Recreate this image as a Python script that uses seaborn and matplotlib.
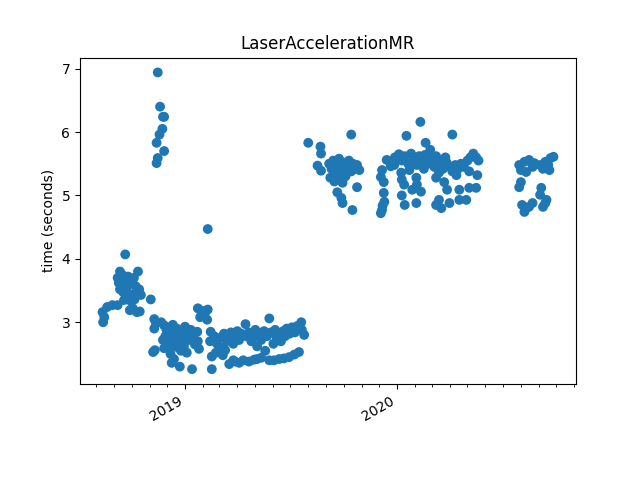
import numpy as np
import pandas as pd
import matplotlib
matplotlib.use("Agg")
import matplotlib.pyplot as plt
import matplotlib.dates as mdates
import seaborn as sns

# fechas y tiempos, por grupos

dates_2018 = ['2018-08-13', '2018-08-15', '2018-08-12', '2018-08-20', '2018-08-29', '2018-09-07',
              '2018-09-11', '2018-09-20', '2018-09-07', '2018-09-09', '2018-09-13', '2018-09-16',
              '2018-09-18', '2018-09-21', '2018-09-25', '2018-09-28', '2018-10-02', '2018-10-05',
              '2018-10-12', '2018-09-11', '2018-09-16', '2018-09-23', '2018-10-08', '2018-10-14',
              '2018-09-27', '2018-10-03', '2018-10-17', '2018-09-18', '2018-09-30', '2018-10-06',
              '2018-09-28', '2018-10-03', '2018-10-10', '2018-10-15', '2018-11-03', '2018-11-09',
              '2018-11-12', '2018-11-09', '2018-11-07', '2018-11-10', '2018-11-26']
times_2018 = [3.00, 3.08, 3.16, 3.24, 3.27, 3.27,
              3.80, 4.07, 3.70, 3.62, 3.68, 3.74,
              3.58, 3.66, 3.72, 3.69, 3.62, 3.70,
              3.80, 3.52, 3.48, 3.55, 3.57, 3.52,
              3.42, 3.44, 3.43, 3.35, 3.33, 3.36,
              3.19, 3.22, 3.16, 3.17, 3.36, 3.05,
              2.98, 2.90, 2.53, 2.56, 2.59]

dates_spike = ['2018-11-15', '2018-11-19', '2018-11-24', '2018-11-26', '2018-11-23',
               '2018-11-18', '2018-11-13', '2018-11-26', '2018-11-15', '2018-11-13']
times_spike = [6.94, 6.40, 6.24, 6.24, 6.05, 5.96, 5.83, 5.70, 5.59, 5.51]

dates_low = ['2018-11-21', '2018-11-26', '2018-11-30', '2018-12-04', '2018-12-07', '2018-12-11',
             '2018-12-14', '2018-12-18', '2018-12-22', '2018-12-25', '2018-12-29', '2019-01-01',
             '2019-01-04', '2019-01-08', '2019-01-11', '2019-01-15', '2019-01-18', '2019-01-22',
             '2018-12-04', '2018-12-09', '2018-12-14', '2018-12-20', '2018-12-25', '2018-12-30',
             '2019-01-04', '2018-12-07', '2018-12-13', '2018-12-09', '2018-12-23', '2019-01-13',
             '2019-02-16', '2018-11-28', '2018-11-24', '2019-01-23', '2019-01-25', '2019-02-09',
             '2019-01-23', '2019-01-30', '2019-02-04', '2019-01-27', '2019-02-03', '2019-02-08',
             '2019-02-09', '2019-02-14', '2019-02-20', '2019-02-13', '2019-02-25', '2019-03-01',
             '2019-02-16', '2019-02-23', '2019-03-04', '2019-03-09', '2019-03-14', '2019-03-18',
             '2019-03-21', '2019-03-07', '2019-03-18', '2019-03-25', '2019-03-28', '2019-04-01',
             '2019-04-04', '2019-04-08', '2019-04-04', '2019-04-11', '2019-04-15', '2019-04-16',
             '2019-04-21', '2019-04-25', '2019-04-28', '2019-05-02', '2019-04-21', '2019-04-30',
             '2019-05-05', '2019-05-08', '2019-05-12', '2019-05-12', '2019-05-17', '2019-05-19',
             '2019-05-22', '2019-05-26', '2019-05-29', '2019-06-02', '2019-06-03', '2019-06-05',
             '2019-06-08', '2019-06-12', '2019-06-15', '2019-06-19', '2019-06-20', '2019-06-22',
             '2019-06-25', '2019-06-29', '2019-06-30', '2019-07-04', '2019-07-08', '2019-07-09',
             '2019-07-13', '2019-07-16', '2019-07-20', '2019-07-21', '2019-07-25', '2019-03-11',
             '2019-03-25', '2019-03-28', '2019-05-05', '2019-05-26', '2019-06-12']
times_low = [3.00, 2.95, 2.88, 2.92, 2.84, 2.96,
             2.80, 2.90, 2.75, 2.86, 2.70, 2.93,
             2.80, 2.72, 2.88, 2.76, 2.65, 2.85,
             2.70, 2.62, 2.68, 2.60, 2.55, 2.62,
             2.52, 2.50, 2.42, 2.36, 2.30, 2.26,
             2.26, 2.78, 2.72, 2.70, 2.58, 4.47,
             3.22, 3.18, 3.14, 3.08, 3.10, 3.04,
             3.20, 2.85, 2.78, 2.70, 2.66, 2.75,
             2.46, 2.52, 2.60, 2.82, 2.70, 2.76,
             2.84, 2.48, 2.34, 2.66, 2.78, 2.86,
             2.72, 2.82, 2.36, 2.40, 2.97, 2.78,
             2.84, 2.70, 2.76, 2.88, 2.38, 2.41,
             2.62, 2.82, 2.72, 2.44, 2.86, 2.55,
             2.78, 3.06, 2.84, 2.66, 2.40, 2.88,
             2.75, 2.82, 2.70, 2.86, 2.43, 2.78,
             2.90, 2.45, 2.82, 2.92, 2.49, 2.84,
             2.94, 2.53, 3.00, 2.88, 2.80, 2.56,
             2.40, 2.38, 2.42, 2.40, 2.42]

dates_fall19 = ['2019-08-01', '2019-08-22', '2019-08-23', '2019-08-17', '2019-08-23', '2019-10-14',
                '2019-09-06', '2019-09-10', '2019-09-13', '2019-09-17', '2019-09-20', '2019-09-23',
                '2019-09-27', '2019-09-30', '2019-10-04', '2019-10-07', '2019-10-10', '2019-10-14',
                '2019-10-17', '2019-10-21', '2019-10-24', '2019-10-28', '2019-09-08', '2019-09-15',
                '2019-09-22', '2019-09-29', '2019-10-24', '2019-09-20', '2019-09-27', '2019-09-29',
                '2019-10-16', '2019-10-06', '2019-09-25', '2019-09-17']
times_fall19 = [5.83, 5.77, 5.66, 5.47, 5.39, 5.96,
                5.50, 5.42, 5.55, 5.35, 5.48, 5.58,
                5.40, 5.52, 5.30, 5.45, 5.55, 5.38,
                5.50, 5.42, 5.48, 5.40, 5.28, 5.22,
                5.30, 5.20, 5.13, 5.05, 4.96, 4.88,
                4.77, 5.35, 5.45, 5.52]

dates_2020 = ['2020-02-10', '2020-01-17', '2020-04-05', '2020-02-19', '2020-02-27',
              '2019-12-14', '2019-12-21', '2019-12-28', '2020-01-04', '2020-01-09', '2020-01-14',
              '2020-01-20', '2020-01-25', '2020-01-30', '2020-02-04', '2020-02-08', '2020-02-13',
              '2020-02-18', '2020-02-23', '2020-02-28', '2020-03-05', '2020-03-10', '2020-03-15',
              '2020-03-20', '2020-03-26', '2020-03-31', '2020-04-05', '2020-04-10', '2020-04-15',
              '2020-04-20', '2020-04-25', '2020-05-01', '2020-05-06', '2020-05-11', '2020-05-16',
              '2020-05-20', '2020-01-22', '2020-02-16', '2020-03-13', '2020-04-12', '2020-05-04',
              '2019-12-27', '2020-03-08', '2020-03-24',
              '2019-12-06', '2019-12-04', '2019-12-09', '2019-12-09', '2019-12-10', '2019-12-06',
              '2019-12-04', '2019-12-07', '2020-01-08', '2020-01-09', '2020-01-13', '2020-01-09',
              '2020-01-14', '2020-02-03', '2020-02-04', '2020-01-27', '2020-02-11', '2020-02-03',
              '2020-03-08', '2020-03-13', '2020-03-08', '2020-03-17', '2020-03-31', '2020-03-22',
              '2020-03-27', '2020-04-17', '2020-05-04', '2020-05-16', '2020-04-17', '2020-04-29',
              '2020-05-18']
times_2020 = [6.16, 5.94, 5.96, 5.83, 5.72,
              5.56, 5.46, 5.60, 5.65, 5.55, 5.62,
              5.50, 5.66, 5.58, 5.48, 5.62, 5.55,
              5.64, 5.50, 5.58, 5.45, 5.55, 5.50,
              5.42, 5.52, 5.46, 5.38, 5.48, 5.42,
              5.50, 5.45, 5.55, 5.60, 5.66, 5.60,
              5.55, 5.40, 5.42, 5.36, 5.32, 5.38,
              5.48, 5.62, 5.60,
              5.40, 5.29, 5.21, 5.04, 4.90, 4.77,
              4.72, 4.84, 5.36, 5.25, 5.17, 5.00,
              4.85, 5.28, 5.17, 5.09, 5.06, 4.88,
              5.28, 4.93, 4.85, 4.80, 4.88, 5.21,
              5.09, 5.09, 5.12, 5.12, 4.93, 4.93,
              5.32]

dates_summer20 = ['2020-07-29', '2020-08-07', '2020-08-15', '2020-08-24', '2020-08-01', '2020-08-10',
                  '2020-08-21', '2020-09-03', '2020-09-12', '2020-09-21', '2020-09-26', '2020-09-17',
                  '2020-09-08', '2020-09-19', '2020-08-01', '2020-07-29', '2020-09-05', '2020-09-03',
                  '2020-08-03', '2020-08-07', '2020-08-15', '2020-08-21', '2020-09-12', '2020-09-14',
                  '2020-09-08', '2020-08-10']
times_summer20 = [5.48, 5.53, 5.56, 5.51, 5.40, 5.37,
                  5.45, 5.48, 5.53, 5.59, 5.61, 5.48,
                  5.42, 5.40, 5.21, 5.13, 5.12, 5.01,
                  4.85, 4.74, 4.82, 4.88, 4.88, 4.93,
                  4.82, 4.80]

df = pd.DataFrame({
    'date': pd.to_datetime(dates_2018 + dates_spike + dates_low + dates_fall19 + dates_2020 + dates_summer20),
    'time': times_2018 + times_spike + times_low + times_fall19 + times_2020 + times_summer20,
})

fig, ax = plt.subplots(figsize=(6.4, 4.8), dpi=100)
sns.scatterplot(data=df, x='date', y='time', ax=ax, color='#1f77b4', s=50,
                linewidth=0, edgecolor='none')

ax.xaxis.set_major_locator(mdates.YearLocator())
ax.xaxis.set_major_formatter(mdates.DateFormatter('%Y'))
ax.xaxis.set_minor_locator(mdates.MonthLocator())
ax.set_xlabel('')
ax.set_ylabel('time (seconds)')
ax.set_title('LaserAccelerationMR')
fig.autofmt_xdate()

fig.savefig('out.png')
